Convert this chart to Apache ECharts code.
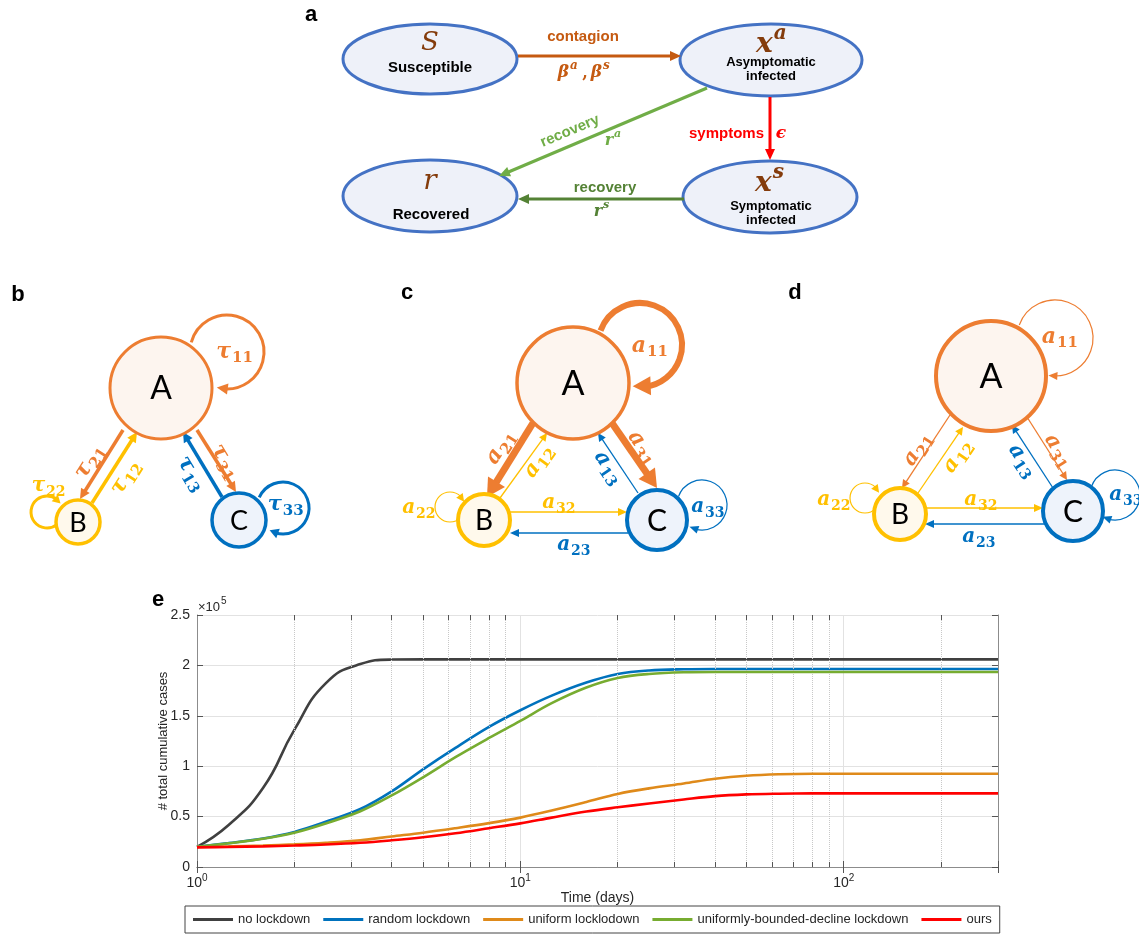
<!DOCTYPE html>
<html><head><meta charset="utf-8">
<script src="https://cdn.jsdelivr.net/npm/echarts/dist/echarts.min.js"></script>
<style>html,body{margin:0;padding:0;background:#fff}#c{width:1139px;height:936px}</style>
</head><body><div id="c"></div><script>
// ---------- data (panel e) ----------
const days = [1,1.25,1.6,2,2.5,3.2,4,5,6.3,8,10,12.5,16,20,25,32,40,50,63,80,100,125,160,200,250,300];
const noLockdown = [0.2,0.415,0.783,1.36,1.822,2.013,2.058,2.06,2.06,2.06,2.06,2.06,2.06,2.06,2.06,2.06,2.06,2.06,2.06,2.06,2.06,2.06,2.06,2.06,2.06,2.06];
const randomLockdown = [0.2,0.237,0.283,0.348,0.448,0.575,0.75,0.969,1.182,1.39,1.555,1.70,1.83,1.915,1.95,1.962,1.965,1.965,1.965,1.965,1.965,1.965,1.965,1.965,1.965,1.965];
const uniformLockdown = [0.2,0.205,0.213,0.224,0.24,0.265,0.303,0.34,0.385,0.435,0.49,0.56,0.645,0.725,0.78,0.828,0.875,0.905,0.92,0.925,0.925,0.925,0.925,0.925,0.925,0.925];
const ubdLockdown = [0.2,0.235,0.28,0.34,0.432,0.553,0.71,0.89,1.09,1.28,1.45,1.625,1.78,1.875,1.915,1.932,1.935,1.935,1.935,1.935,1.935,1.935,1.935,1.935,1.935,1.935];
const ours = [0.195,0.199,0.205,0.213,0.223,0.24,0.265,0.295,0.335,0.385,0.433,0.49,0.55,0.592,0.63,0.67,0.703,0.72,0.727,0.73,0.73,0.73,0.73,0.73,0.73,0.73];
const seriesNames = ['no lockdown','random lockdown','uniform locklodown','uniformly-bounded-decline lockdown','ours'];
const minorTicks = [2,3,4,5,6,7,8,9,20,30,40,50,60,70,80,90,200];
const yTicks = [0,0.5,1,1.5,2,2.5];

// ---------- diagram helpers ----------
const G = [];
const OR='#ED7D31', YE='#FFC000', BL='#0070C0';
function line(x1,y1,x2,y2,c,w){G.push({type:'line',silent:true,shape:{x1,y1,x2,y2},style:{stroke:c,lineWidth:w,fill:'none'}});}
function head(tx,ty,dx,dy,c,len,wid){
  const bx=tx-dx*len, by=ty-dy*len, px=-dy, py=dx;
  G.push({type:'polygon',silent:true,shape:{points:[[tx,ty],[bx+px*wid/2,by+py*wid/2],[bx-px*wid/2,by-py*wid/2]]},style:{fill:c}});
}
function arrow(x1,y1,x2,y2,c,w,len,wid){
  len=len||Math.max(8,w*2.9); wid=wid||Math.max(7,w*2.9);
  const L=Math.hypot(x2-x1,y2-y1), dx=(x2-x1)/L, dy=(y2-y1)/L;
  line(x1,y1,x2-dx*len*0.7,y2-dy*len*0.7,c,w); head(x2,y2,dx,dy,c,len,wid);
}
function loop(cx,cy,r,a0,a1,c,w,len,wid){
  const s=a0*Math.PI/180, e=a1*Math.PI/180, tr=len*0.7/r;
  G.push({type:'arc',silent:true,shape:{cx,cy,r,startAngle:s,endAngle:e-tr,clockwise:true},style:{stroke:c,lineWidth:w,fill:'none'}});
  const tx=cx+r*Math.cos(e), ty=cy+r*Math.sin(e);
  const pb=e-len/r, bx=cx+r*Math.cos(pb), by=cy+r*Math.sin(pb);
  const L=Math.hypot(tx-bx,ty-by);
  head(tx,ty,(tx-bx)/L,(ty-by)/L,c,len,wid);
}
function node(cx,cy,r,stroke,fill,lw,label,fs){
  G.push({type:'circle',silent:true,shape:{cx,cy,r},style:{fill,stroke,lineWidth:lw}});
  T(cx,cy+1,label,{font:fs+'px Lato',color:'#000'});
}
function ell(cx,cy,rx,ry){G.push({type:'ellipse',silent:true,shape:{cx,cy,rx,ry},style:{fill:'#EEF1F9',stroke:'#4472C4',lineWidth:3}});}
function T(x,y,text,o){
  o=o||{};
  G.push({type:'text',silent:true,x,y,rotation:o.rot||0,style:{text,fill:o.color||'#000',font:o.font||'bold 15px "Liberation Sans"',textAlign:o.align||'center',textVerticalAlign:'middle'}});
}
function math(x,y,base,script,sup,color,size,rot){
  const ss=Math.round(size*0.7);
  const bw=size*0.55*base.length, sw=ss*0.6*script.length, x0=-(bw+sw)/2+bw;
  G.push({type:'group',silent:true,x,y,rotation:rot||0,children:[
    {type:'text',x:x0,y:0,style:{text:base,fill:color,font:'italic bold '+size+'px "DejaVu Serif"',textAlign:'right',textVerticalAlign:'middle'}},
    {type:'text',x:x0+1,y:sup?-size*0.4:size*0.3,style:{text:script,fill:color,font:(sup?'italic ':'')+'bold '+ss+'px "DejaVu Serif"',textAlign:'left',textVerticalAlign:'middle'}}
  ]});
}

// ---------- panel a ----------
T(311,15,'a',{font:'bold 22px "Liberation Sans"'});
ell(430,59,87,35); ell(771,60,91,36); ell(430,196,87,36); ell(770,197,87,36);
const BR='#843C0C';
T(430,43,'S',{font:'italic 26px "DejaVu Serif"',color:BR});
T(430,68,'Susceptible',{font:'bold 15px "Liberation Sans"'});
math(771,45,'x','a',true,BR,28,0);
T(771,62,'Asymptomatic',{font:'bold 13px "Liberation Sans"'});
T(771,76,'infected',{font:'bold 13px "Liberation Sans"'});
T(430,182,'r',{font:'italic 28px "DejaVu Serif"',color:BR});
T(431,215,'Recovered',{font:'bold 15px "Liberation Sans"'});
math(770,184,'x','s',true,BR,28,0);
T(771,206,'Symptomatic',{font:'bold 13px "Liberation Sans"'});
T(771,220,'infected',{font:'bold 13px "Liberation Sans"'});
arrow(518,56,681,56,'#C55A11',3,11,10);
T(583,37,'contagion',{font:'bold 15px "Liberation Sans"',color:'#C55A11'});
math(568,73,'β','a',true,'#C55A11',17,0);
T(585,74,',',{font:'bold 16px "DejaVu Serif"',color:'#C55A11'});
math(601,73,'β','s',true,'#C55A11',17,0);
arrow(770,97,770,160,'#FF0000',3,11,10);
T(764,134,'symptoms',{font:'bold 15px "Liberation Sans"',color:'#FF0000',align:'right'});
T(781,134,'ϵ',{font:'italic bold 17px "DejaVu Serif"',color:'#FF0000'});
arrow(707,88,499,176,'#70AD47',3,11,10);
T(570,131,'recovery',{font:'bold 15px "Liberation Sans"',color:'#70AD47',rot:0.4});
math(612,141,'r','a',true,'#70AD47',16,0);
arrow(684,199,518,199,'#548235',3,11,10);
T(605,188,'recovery',{font:'bold 15px "Liberation Sans"',color:'#548235'});
math(601,212,'r','s',true,'#548235',16,0);

// ---------- panel b ----------
T(18,295,'b',{font:'bold 22px "Liberation Sans"'});
loop(227,352,37,195,466,OR,3,11,11);
loop(47,512,16,52,328,YE,3,8,9);
loop(283,508,26,204,481,BL,3,9,10);
arrow(123,430,80,499,OR,3.5);
arrow(92,503,137,432,YE,3.5);
arrow(222,497,183,432,BL,3.5);
arrow(197,430,236,492,OR,3.5);
node(161,388,51,OR,'#FDF5EF',3,'A',32);
node(78,522,22,YE,'#FFF9EC',3.5,'B',27);
node(239,520,27,BL,'#EEF3FB',3.5,'C',27);
math(234,352,'τ','11',false,OR,22,0);
math(48,486,'τ','22',false,YE,20,0);
math(285,505,'τ','33',false,BL,21,0);
math(89,462,'τ','21',false,OR,22,1.0);
math(125,478,'τ','12',false,YE,22,1.0);
math(191,473,'τ','13',false,BL,22,-1.03);
math(225,461,'τ','31',false,OR,22,-1.03);

// ---------- panel c ----------
T(407,293,'c',{font:'bold 22px "Liberation Sans"'});
loop(640,345,42,200,460,OR,6,18,19);
loop(450,507,15,45,340,YE,1.2,8,8);
loop(702,505,25,200,480,BL,1.2,9,8);
arrow(533,423,487,497,OR,7,18,20);
arrow(500,498,547,433,YE,1.3,8,8);
arrow(638,493,598,433,BL,1.3,8,8);
arrow(612,423,657,488,OR,7,18,20);
arrow(510,512,627,512,YE,1.3,9,8);
arrow(628,533,510,533,BL,1.3,9,8);
node(573,383,56,OR,'#FDF5EF',3.5,'A',34);
node(484,520,26,YE,'#FFF9EC',4,'B',28);
node(657,520,30,BL,'#EEF3FB',4,'C',30);
math(649,346,'a','11',false,OR,22,0);
math(418,508,'a','22',false,YE,20,0);
math(707,507,'a','33',false,BL,20,0);
math(500,448,'a','21',false,OR,22,1.0);
math(538,462,'a','12',false,YE,21,0.95);
math(608,467,'a','13',false,BL,21,-0.98);
math(642,447,'a','31',false,OR,22,-0.96);
math(558,503,'a','32',false,YE,20,0);
math(573,545,'a','23',false,BL,20,0);

// ---------- panel d ----------
T(795,293,'d',{font:'bold 22px "Liberation Sans"'});
loop(1055,338,38,200,460,OR,1.2,9,8);
loop(865,498,15,45,340,YE,1.2,8,8);
loop(1115,495,25,200,480,BL,1.2,9,8);
arrow(950,415,902,488,OR,1.3,8,8);
arrow(918,493,963,427,YE,1.3,8,8);
arrow(1053,488,1012,425,BL,1.3,8,8);
arrow(1027,417,1067,480,OR,1.3,8,8);
arrow(925,508,1043,508,YE,1.3,9,8);
arrow(1045,524,925,524,BL,1.3,9,8);
node(991,376,55,OR,'#FDF5EF',4,'A',34);
node(900,514,26,YE,'#FFF9EC',4,'B',28);
node(1073,511,30,BL,'#EEF3FB',4,'C',30);
math(1059,337,'a','11',false,OR,22,0);
math(833,500,'a','22',false,YE,20,0);
math(1125,495,'a','33',false,BL,20,0);
math(917,450,'a','21',false,OR,21,1.0);
math(957,457,'a','12',false,YE,21,0.97);
math(1022,460,'a','13',false,BL,21,-0.99);
math(1058,450,'a','31',false,OR,21,-1.0);
math(980,500,'a','32',false,YE,20,0);
math(978,537,'a','23',false,BL,20,0);

// ---------- panel e decorations ----------
T(158,600,'e',{font:'bold 22px "Liberation Sans"'});
T(198,607,'×10',{font:'13px "Liberation Sans"',color:'#262626',align:'left'});
T(221,601,'5',{font:'10px "Liberation Sans"',color:'#262626',align:'left'});

// ---------- chart ----------
const chart = echarts.init(document.getElementById('c'),null,{renderer:'canvas'});
const colors=['#404040','#0072BD','#DF8A1A','#77AC30','#FF0000'];
const values=[noLockdown,randomLockdown,uniformLockdown,ubdLockdown,ours];
const AX='#8c8c8c', TX='#262626';
function isPow10(v){const l=Math.log10(v);return Math.abs(l-Math.round(l))<1e-6;}
const mlData=[];
minorTicks.forEach(v=>{
  mlData.push({xAxis:v,lineStyle:{type:'dotted',color:'#c8c8c8',width:1}});
  mlData.push([{coord:[v,0]},{coord:[v,0.05]}]);
  mlData.push([{coord:[v,2.45]},{coord:[v,2.5]}]);
});
const series=values.map((arr,i)=>({
  name:seriesNames[i],type:'line',xAxisIndex:0,yAxisIndex:0,
  data:days.map((d,j)=>[d,arr[j]]),showSymbol:false,symbol:'none',
  smooth:i===0?0.5:0.35,
  lineStyle:{color:colors[i],width:2.6},itemStyle:{color:colors[i]},z:3+i,
  markLine:i===0?{silent:true,symbol:['none','none'],label:{show:false},animation:false,
    lineStyle:{color:'#555',width:1,type:'solid'},data:mlData}:undefined
}));
chart.setOption({
  animation:false,
  backgroundColor:'#fff',
  graphic:{elements:G},
  legend:{data:seriesNames,left:185,top:906,itemWidth:40,itemHeight:3,itemGap:13,icon:'rect',
    borderColor:'#444',borderWidth:1,padding:[7,8,7,8],
    textStyle:{fontSize:13,color:TX,fontFamily:'Liberation Sans'}},
  grid:{left:197,right:141,top:615,bottom:69},
  xAxis:[{type:'log',logBase:10,min:1,max:300,position:'bottom',
    name:'Time (days)',nameLocation:'middle',nameGap:13,
    nameTextStyle:{fontSize:14,color:TX,fontFamily:'Liberation Sans',verticalAlign:'top'},
    axisLine:{show:true,lineStyle:{color:AX,width:1}},
    axisTick:{show:true,inside:true,length:6,lineStyle:{color:'#555'}},
    splitLine:{show:true,lineStyle:{color:'#e2e2e2',width:1}},
    axisLabel:{margin:6,color:TX,fontFamily:'Liberation Sans',
      formatter:v=>isPow10(v)?'{b|10}{s|'+Math.round(Math.log10(v))+'}':'',
      rich:{b:{fontSize:14,lineHeight:20,color:TX,fontFamily:'Liberation Sans'},
            s:{fontSize:10,verticalAlign:'top',color:TX,fontFamily:'Liberation Sans'}}}},
   {type:'log',logBase:10,min:1,max:300,position:'top',
    axisLine:{show:true,lineStyle:{color:AX,width:1}},
    axisTick:{show:true,inside:true,length:6,lineStyle:{color:'#555'}},
    splitLine:{show:false},axisLabel:{show:false}}],
  yAxis:[{type:'value',min:0,max:2.5,interval:0.5,position:'left',
    name:'# total cumulative cases',nameLocation:'middle',nameGap:27,nameMoveOverlap:false,
    nameTextStyle:{fontSize:13,color:TX,fontFamily:'Liberation Sans'},
    axisLine:{show:true,lineStyle:{color:AX,width:1}},
    axisTick:{show:true,inside:true,length:6,lineStyle:{color:'#555'}},
    splitLine:{show:true,lineStyle:{color:'#e2e2e2',width:1}},
    axisLabel:{margin:7,fontSize:14,color:TX,fontFamily:'Liberation Sans',formatter:v=>String(v)}},
   {type:'value',min:0,max:2.5,interval:0.5,position:'right',
    axisLine:{show:true,lineStyle:{color:AX,width:1}},
    axisTick:{show:true,inside:true,length:6,lineStyle:{color:'#555'}},
    splitLine:{show:false},axisLabel:{show:false}}],
  series
});
</script></body></html>
